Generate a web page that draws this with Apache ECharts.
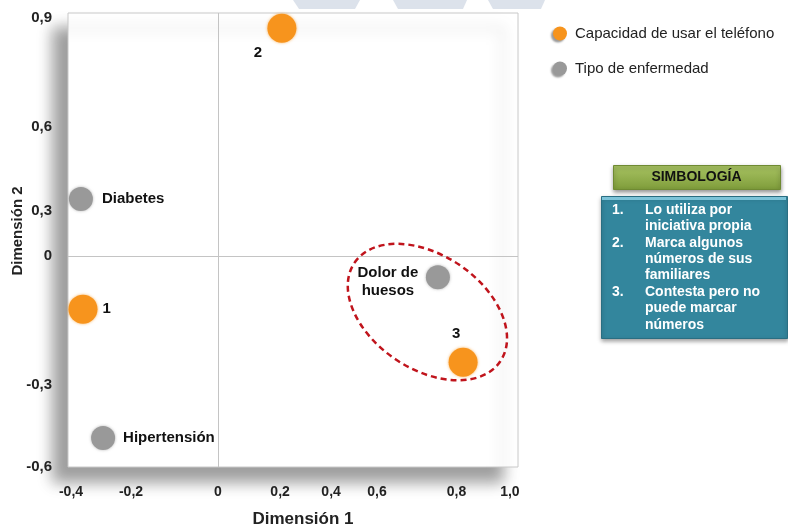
<!DOCTYPE html>
<html>
<head>
<meta charset="utf-8">
<script src="https://cdn.jsdelivr.net/npm/echarts@6/dist/echarts.min.js"></script>
<style>
  html, body { margin: 0; padding: 0; background: #fff; }
  #chart { width: 788px; height: 527px; }
</style>
</head>
<body>
<div id="chart"></div>
<script>
// Correspondence map: phone-use ability vs. type of illness
const seriesNames = ['Capacidad de usar el teléfono', 'Tipo de enfermedad'];

const phoneLabels = ['1', '2', '3'];
const phoneDim1 = [-0.45, 0.213, 0.817];
const phoneDim2 = [-0.181, 0.778, -0.362];

const diseaseLabels = ['Diabetes', 'Hipertensión', 'Dolor de\nhuesos'];
const diseaseDim1 = [-0.457, -0.383, 0.733];
const diseaseDim2 = [0.195, -0.621, -0.072];

// tick labels as printed on each dimension, and where they sit on the scale
const xTickText = ['-0,4', '-0,2', '0', '0,2', '0,4', '0,6', '0,8', '1,0'];
const xTickAt = [-0.49, -0.29, 0, 0.207, 0.377, 0.53, 0.795, 0.973];
const yTickText = ['0,9', '0,6', '0,3', '0', '-0,3', '-0,6'];
const yTickAt = [0.813, 0.44, 0.154, 0, -0.44, -0.72];

// grouped categories highlighted with a dashed ring (centre in data units)
const ringCentre = [0.698, -0.191];

const legendItems = [
  '1.\tLo utiliza por iniciativa propia',
  '2.\tMarca algunos números de sus familiares',
  '3.\tContesta pero no puede marcar números'
];

const FONT = '"Liberation Sans", Arial, sans-serif';
const ORANGE = '#F7941D';
const GREY = '#999999';

function tickText(list, at) {
  return function (v) {
    for (let i = 0; i < at.length; i++) {
      if (Math.abs(at[i] - v) < 1e-6) return list[i];
    }
    return '';
  };
}

const labelBase = { show: true, formatter: '{b}', color: '#111', fontFamily: FONT, fontWeight: 'bold', fontSize: 15 };
const labelPlacement = {
  '1': { position: 'right', distance: 5 },
  '2': { position: 'bottom', distance: 3, offset: [-24, 0] },
  '3': { position: 'top', distance: 6, offset: [-7, 0] },
  'Diabetes': { position: 'right', distance: 9 },
  'Hipertensión': { position: 'right', distance: 8 },
  'Dolor de\nhuesos': { position: 'inside', offset: [-50, 5], align: 'center', lineHeight: 18 }
};

function buildData(names, xs, ys) {
  return names.map((n, i) => ({
    name: n,
    value: [xs[i], ys[i]],
    label: Object.assign({}, labelBase, labelPlacement[n])
  }));
}

const chart = echarts.init(document.getElementById('chart'), null, { renderer: 'canvas' });

// symbology panel, built as graphic text lines
const panelLines = [];
const numY = [];
legendItems.forEach((item) => {
  const parts = item.split('\t');
  numY.push({ num: parts[0], line: panelLines.length });
  const words = parts[1].split(' ');
  let cur = '';
  words.forEach((w) => {
    const test = cur ? cur + ' ' + w : w;
    if (test.length > 17 && cur) { panelLines.push(cur); cur = w; }
    else cur = test;
  });
  if (cur) panelLines.push(cur);
});

const LINE_H = 16.4;
const panelGraphics = [
  {
    type: 'rect', left: 601, top: 196, z: 10,
    shape: { width: 186, height: 142 },
    style: { fill: '#33869D', stroke: '#2A6E82', lineWidth: 1, shadowBlur: 4, shadowColor: 'rgba(0,0,0,0.35)', shadowOffsetY: 2 }
  },
  {
    type: 'rect', left: 602, top: 197, z: 11,
    shape: { width: 184, height: 3 },
    style: { fill: '#7CC3D8' }
  },
  {
    type: 'rect', left: 613, top: 165, z: 10,
    shape: { width: 167, height: 24 },
    style: {
      fill: new echarts.graphic.LinearGradient(0, 0, 0, 1, [
        { offset: 0, color: '#A9C463' },
        { offset: 1, color: '#7E9C3A' }
      ]),
      stroke: '#6F8A32', lineWidth: 1,
      shadowBlur: 4, shadowColor: 'rgba(0,0,0,0.4)', shadowOffsetY: 2
    }
  },
  {
    type: 'text', z: 12, x: 696.5, y: 177,
    style: { text: 'SIMBOLOGÍA', fill: '#111', font: 'bold 14px ' + FONT, align: 'center', verticalAlign: 'middle' }
  }
];
numY.forEach((n) => {
  panelGraphics.push({
    type: 'text', z: 12, x: 612, y: 210 + n.line * LINE_H,
    style: { text: n.num, fill: '#fff', font: 'bold 14px ' + FONT, verticalAlign: 'middle' }
  });
});
panelLines.forEach((t, i) => {
  panelGraphics.push({
    type: 'text', z: 12, x: 645, y: 210 + i * LINE_H,
    style: { text: t, fill: '#fff', font: 'bold 14px ' + FONT, verticalAlign: 'middle' }
  });
});

// faint banner shapes along the top edge
const banner = [
  [[293, 0], [360, 0], [355, 9], [299, 9]],
  [[393, 0], [467, 0], [463, 9], [398, 9]],
  [[488, 0], [545, 0], [541, 9], [493, 9]]
].map((pts) => ({
  type: 'polygon', z: 0, shape: { points: pts }, style: { fill: '#DCE2EB' }
}));

chart.setOption({
  animation: false,
  backgroundColor: '#fff',
  grid: {
    left: 68, right: 270, top: 13, bottom: 60,
    outerBoundsMode: 'none', containLabel: false,
    show: true, backgroundColor: '#fff', borderColor: '#c8c8c8', borderWidth: 1,
    shadowColor: 'rgba(0,0,0,0.38)', shadowBlur: 14, shadowOffsetX: -15, shadowOffsetY: 15
  },
  legend: {
    orient: 'vertical', left: 548, top: 21,
    itemWidth: 14, itemHeight: 14, itemGap: 20, icon: 'circle',
    data: seriesNames,
    itemStyle: { shadowBlur: 2, shadowColor: 'rgba(0,0,0,0.4)', shadowOffsetX: -2, shadowOffsetY: 2 },
    textStyle: { fontFamily: FONT, fontSize: 15, color: '#222', padding: [0, 0, 0, 3] }
  },
  xAxis: {
    type: 'value', min: -0.5, max: 1.0,
    axisLine: { show: false }, axisTick: { show: false }, splitLine: { show: false },
    axisLabel: {
      customValues: xTickAt, formatter: tickText(xTickText, xTickAt),
      margin: 18, fontFamily: FONT, fontWeight: 'bold', fontSize: 14, color: '#222'
    },
    name: 'Dimensión 1', nameLocation: 'middle', nameGap: 44, nameMoveOverlap: false,
    nameTextStyle: { fontFamily: FONT, fontWeight: 'bold', fontSize: 17, color: '#222', padding: [0, 0, 0, 20] }
  },
  yAxis: {
    type: 'value', min: -0.72, max: 0.83,
    axisLine: { show: false }, axisTick: { show: false }, splitLine: { show: false },
    axisLabel: {
      customValues: yTickAt, formatter: tickText(yTickText, yTickAt),
      margin: 16, fontFamily: FONT, fontWeight: 'bold', fontSize: 15, color: '#222'
    },
    name: 'Dimensión 2', nameLocation: 'middle', nameGap: 43, nameMoveOverlap: false,
    nameTextStyle: { fontFamily: FONT, fontWeight: 'bold', fontSize: 15, color: '#222', padding: [0, 0, 0, 18] }
  },
  series: [
    {
      name: seriesNames[0], type: 'scatter', symbolSize: 29, z: 3,
      itemStyle: { color: ORANGE, opacity: 1, shadowBlur: 3, shadowColor: 'rgba(247,148,29,0.7)' },
      data: buildData(phoneLabels, phoneDim1, phoneDim2),
      markLine: {
        silent: true, symbol: 'none', animation: false,
        label: { show: false },
        lineStyle: { color: '#c4c4c4', width: 1, type: 'solid' },
        data: [{ xAxis: 0 }, { yAxis: 0 }]
      }
    },
    {
      name: seriesNames[1], type: 'scatter', symbolSize: 24, z: 3,
      itemStyle: { color: GREY, opacity: 1, shadowBlur: 3, shadowColor: 'rgba(150,150,150,0.7)' },
      data: buildData(diseaseLabels, diseaseDim1, diseaseDim2)
    }
  ],
  graphic: banner.concat(panelGraphics)
});

// dashed ring around the grouped pair, positioned from data coordinates
const c = chart.convertToPixel({ gridIndex: 0 }, ringCentre);
chart.setOption({
  graphic: banner.concat(panelGraphics).concat([{
    type: 'ellipse', z: 20, x: c[0], y: c[1], rotation: -34 * Math.PI / 180,
    shape: { cx: 0, cy: 0, rx: 88, ry: 57 },
    style: { fill: 'none', stroke: '#C0141C', lineWidth: 2.5, lineDash: [6, 4] }
  }])
});
</script>
</body>
</html>
